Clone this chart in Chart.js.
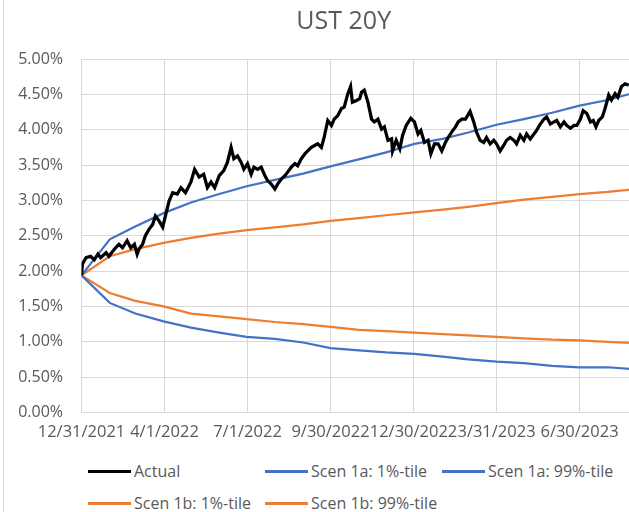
<!DOCTYPE html>
<html>
<head>
<meta charset="utf-8">
<script src="https://cdn.jsdelivr.net/npm/chart.js@4.4.0/dist/chart.umd.min.js"></script>
<style>
  html, body { margin: 0; padding: 0; width: 629px; height: 512px; overflow: hidden; background: #fff; }
  #frame { position: absolute; left: 3px; top: -2px; width: 720px; height: 530px; border: 1px solid #d9d9d9; }
  #graph-container { position: absolute; left: 4px; top: 0; width: 700px; height: 445px; }
  #legend { position: absolute; left: 0; top: 0; font-family: "Open Sans"; font-size: 16px; color: #595959; }
  .item { position: absolute; height: 20px; line-height: 20px; white-space: nowrap; display: flex; align-items: center; }
  .swatch { display: inline-block; width: 43px; height: 3px; margin-right: 3px; }
</style>
</head>
<body>
<div id="frame"></div>
<div id="graph-container"><canvas id="results-graph"></canvas></div>
<div id="legend"></div>
<script>
// Days counted from 12/31/2021, values in percent
var DAYS_ACTUAL = [0, 1, 5, 10, 14, 18, 21, 27, 30, 36, 41, 45, 50, 54, 58, 61, 63, 67, 70, 74, 78, 81, 85, 89, 92, 96,
  100, 105, 109, 114, 120, 124, 129, 134, 138, 142, 146, 151, 156, 160, 164, 167, 171, 175, 178, 182, 186, 189,
  193, 197, 201, 204, 208, 212, 215, 219, 223, 226, 230, 234, 237, 241, 245, 248, 252, 256, 259, 263, 266, 270,
  274, 277, 281, 285, 288, 292, 295, 297, 301, 305, 307, 310, 314, 318, 321, 325, 329, 332, 336, 340, 341, 345,
  349, 352, 356, 361, 365, 369, 372, 376, 380, 383, 387, 391, 395, 399, 402, 406, 410, 413, 417, 421, 426, 430,
  433, 437, 441, 444, 448, 452, 455, 459, 463, 466, 470, 474, 477, 481, 485, 488, 492, 496, 499, 503, 507, 510,
  514, 518, 521, 525, 529, 532, 536, 540, 543, 547, 550, 554, 558, 561, 564, 567, 571, 574, 578, 581, 585, 588,
  592, 596, 600];
var ACTUAL = [1.94, 2.10, 2.19, 2.21, 2.16, 2.24, 2.19, 2.26, 2.21, 2.31, 2.38, 2.33, 2.43, 2.33, 2.38, 2.24, 2.31, 2.38, 2.50, 2.59, 2.66, 2.78, 2.71, 2.62, 2.78, 2.99,
  3.11, 3.09, 3.18, 3.11, 3.26, 3.44, 3.33, 3.37, 3.18, 3.26, 3.18, 3.35, 3.42, 3.54, 3.75, 3.59, 3.63, 3.54, 3.44, 3.52, 3.37, 3.47,
  3.44, 3.47, 3.35, 3.28, 3.23, 3.16, 3.23, 3.30, 3.35, 3.40, 3.47, 3.52, 3.49, 3.59, 3.66, 3.70, 3.75, 3.78, 3.80, 3.75, 3.89, 4.13,
  4.06, 4.15, 4.20, 4.30, 4.32, 4.51, 4.61, 4.39, 4.41, 4.44, 4.53, 4.56, 4.39, 4.15, 4.11, 4.15, 4.01, 4.04, 3.85, 3.87, 3.70, 3.85,
  3.73, 3.92, 4.06, 4.16, 4.11, 3.94, 3.99, 3.82, 3.85, 3.66, 3.80, 3.80, 3.70, 3.82, 3.89, 3.97, 4.04, 4.11, 4.15, 4.15, 4.26, 4.11,
  3.97, 3.85, 3.82, 3.89, 3.80, 3.85, 3.80, 3.70, 3.78, 3.85, 3.89, 3.85, 3.80, 3.92, 3.85, 3.94, 3.87, 3.94, 3.99, 4.08, 4.15, 4.18,
  4.08, 4.11, 4.13, 4.04, 4.11, 4.06, 4.02, 4.06, 4.06, 4.15, 4.27, 4.23, 4.11, 4.13, 4.04, 4.13, 4.18, 4.30, 4.49, 4.42, 4.51, 4.46,
  4.61, 4.65, 4.63];

// scenario paths, month ends
var DAYS_SCEN = [0, 31, 59, 90, 120, 151, 181, 212, 243, 273, 304, 334, 365, 396, 424, 455, 485, 516, 546, 577, 608, 638];
var SCEN_1A_LO = [1.94, 1.55, 1.40, 1.29, 1.20, 1.13, 1.07, 1.04, 0.99, 0.91, 0.88, 0.85, 0.83, 0.79, 0.75, 0.72, 0.70, 0.66, 0.64, 0.64, 0.61, 0.59];
var SCEN_1A_HI = [1.94, 2.45, 2.63, 2.82, 2.97, 3.09, 3.20, 3.29, 3.38, 3.48, 3.58, 3.68, 3.80, 3.87, 3.96, 4.07, 4.15, 4.24, 4.34, 4.42, 4.53, 4.60];
var SCEN_1B_LO = [1.94, 1.69, 1.58, 1.50, 1.40, 1.36, 1.32, 1.28, 1.25, 1.21, 1.17, 1.15, 1.13, 1.11, 1.09, 1.07, 1.05, 1.03, 1.02, 1.00, 0.98, 0.97];
var SCEN_1B_HI = [1.94, 2.21, 2.31, 2.40, 2.47, 2.53, 2.58, 2.62, 2.66, 2.71, 2.75, 2.79, 2.83, 2.87, 2.91, 2.96, 3.01, 3.05, 3.09, 3.12, 3.16, 3.19];

var SERIES_NAMES = ["Actual", "Scen 1a: 1%-tile", "Scen 1a: 99%-tile", "Scen 1b: 1%-tile", "Scen 1b: 99%-tile"];
var X_TICK_DAYS = [0, 91, 182, 273, 364, 455, 546];
var X_TICK_LABELS = ["12/31/2021", "4/1/2022", "7/1/2022", "9/30/2022", "12/30/2022", "3/31/2023", "6/30/2023"];

var COLORS = ["#000000", "#4472C4", "#4472C4", "#ED7D31", "#ED7D31"];
var WIDTHS = [3.25, 2.25, 2.25, 2.25, 2.25];
var FONT = "'Open Sans', 'Noto Sans', sans-serif";
var GREY_TEXT = "#595959";
var GRID = "#d9d9d9";

function toPoints(days, values) {
  var pts = [];
  for (var i = 0; i < days.length; i++) {
    pts.push({ x: days[i], y: values[i] });
  }
  return pts;
}

var seriesData = [
  toPoints(DAYS_ACTUAL, ACTUAL),
  toPoints(DAYS_SCEN, SCEN_1A_LO),
  toPoints(DAYS_SCEN, SCEN_1A_HI),
  toPoints(DAYS_SCEN, SCEN_1B_LO),
  toPoints(DAYS_SCEN, SCEN_1B_HI)
];

var datasets = [];
for (var i = 0; i < SERIES_NAMES.length; i++) {
  datasets.push({
    label: SERIES_NAMES[i],
    data: seriesData[i],
    borderColor: COLORS[i],
    backgroundColor: COLORS[i],
    borderWidth: WIDTHS[i],
    pointRadius: 0,
    tension: 0,
    fill: false
  });
}

var ctx = document.getElementById("results-graph").getContext("2d");
new Chart(ctx, {
  type: "line",
  data: { datasets: datasets },
  options: {
    responsive: true,
    maintainAspectRatio: false,
    animation: false,
    events: [],
    layout: { padding: { left: 0, right: 20.5, top: 0, bottom: 2.5 } },
    plugins: {
      legend: { display: false },
      tooltip: { enabled: false },
      title: {
        display: true,
        text: "UST 20Y",
        color: GREY_TEXT,
        font: { family: FONT, size: 25, weight: "normal" },
        padding: { top: 7, bottom: 22 }
      }
    },
    scales: {
      x: {
        type: "linear",
        min: 0,
        max: 660,
        afterBuildTicks: function (scale) {
          scale.ticks = X_TICK_DAYS.map(function (d) { return { value: d }; });
        },
        afterFit: function (scale) { scale.height = 30; },
        ticks: {
          autoSkip: false,
          maxRotation: 0,
          padding: 10,
          color: GREY_TEXT,
          font: { family: FONT, size: 16.5 },
          callback: function (value) {
            var k = X_TICK_DAYS.indexOf(value);
            return k >= 0 ? X_TICK_LABELS[k] : "";
          }
        },
        grid: { color: GRID, drawTicks: false },
        border: { color: GRID }
      },
      y: {
        min: 0,
        max: 5,
        afterFit: function (scale) { scale.width = 77.5; },
        ticks: {
          stepSize: 0.5,
          padding: 18.5,
          color: GREY_TEXT,
          font: { family: FONT, size: 16 },
          callback: function (value) { return value.toFixed(2) + "%"; }
        },
        grid: { color: GRID, drawTicks: false },
        border: { color: GRID }
      }
    }
  }
});

// legend laid out like the Excel grid
var LEGEND_COLS = [88, 265, 442];
var LEGEND_ROWS = [471, 503];
var legend = document.getElementById("legend");
for (var j = 0; j < SERIES_NAMES.length; j++) {
  var item = document.createElement("div");
  item.className = "item";
  item.style.left = LEGEND_COLS[j % 3] + "px";
  item.style.top = (LEGEND_ROWS[Math.floor(j / 3)] - 10) + "px";
  var sw = document.createElement("span");
  sw.className = "swatch";
  sw.style.background = COLORS[j];
  item.appendChild(sw);
  item.appendChild(document.createTextNode(SERIES_NAMES[j]));
  legend.appendChild(item);
}
</script>
</body>
</html>
